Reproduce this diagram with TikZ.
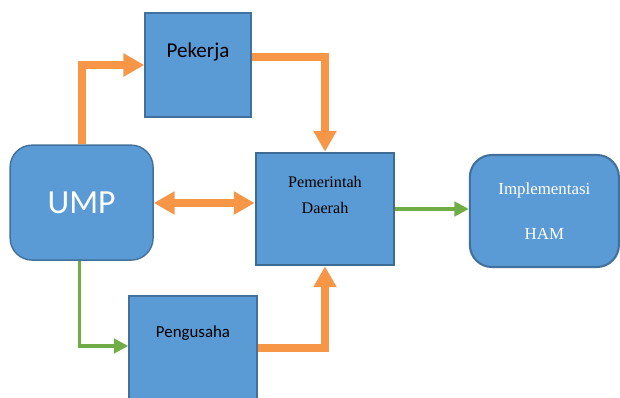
\documentclass[tikz,border=0pt]{standalone}
\usepackage{fontspec}
\setmainfont{Liberation Serif}
\newfontfamily\calibri{Carlito}
\usetikzlibrary{arrows.meta,positioning}

\definecolor{boxblue}{HTML}{5B9BD5}
\definecolor{boxline}{HTML}{41719C}
\definecolor{flow}{HTML}{F79646}
\definecolor{lime}{HTML}{70AD47}

\begin{document}
\begin{tikzpicture}[
    box/.style={draw=boxline, fill=boxblue, line width=1pt},
    orangearrow/.style={flow, line width=0.2cm, line join=miter,
        -{Triangle[width=0.55cm, length=0.52cm]}},
    greenarrow/.style={lime, line width=2.4pt,
        -{Triangle[width=0.36cm, length=0.36cm]}},
    label/.style={font=\calibri, text=black}
]

\useasboundingbox (0,0) rectangle (15.5,9.925);

\node[box, minimum width=2.65cm, minimum height=2.6cm] (pekerja) at (4.95,8.3) {};
\node[label, font=\calibri\fontsize{15}{18}\selectfont] (pekerjaT)
    at ([yshift=-0.98cm]pekerja.north) {Pekerja};

\node[box, rounded corners=0.55cm, minimum width=3.575cm, minimum height=2.875cm,
    text=white, font=\calibri\fontsize{24}{28}\selectfont] (ump) at (2.04,4.86) {UMP};

\node[box, draw=boxline!95!black, line width=1.9pt, minimum width=3.45cm, minimum height=2.8cm] (pemda) at (8.125,4.7) {};
\node[align=center, font=\fontsize{11.5}{18}\selectfont] (pemdaT)
    at ([yshift=-1.08cm]pemda.north) {Pemerintah\\Daerah};

\node[box, line width=1.5pt, rounded corners=0.55cm, minimum width=3.725cm, minimum height=2.8cm,
    align=center, text=white, font=\fontsize{12}{14}\selectfont] (ham) at (13.61,4.65)
    {Implementasi\\[18pt]HAM};

\node[box, minimum width=3.2cm, minimum height=2.8cm] (pengusaha) at (4.825,1.125) {};
\node[label, font=\calibri\fontsize{12}{14}\selectfont] (pengusahaT)
    at ([yshift=-0.95cm]pengusaha.north) {Pengusaha};

\draw[orangearrow] (ump.north) |- (pekerja.west);
\draw[orangearrow] ([yshift=0.2cm]pekerja.east) -| (pemda.north);
\draw[orangearrow, {Triangle[width=0.55cm, length=0.52cm]}-{Triangle[width=0.55cm, length=0.52cm]}]
    ([yshift=-0.01cm]ump.east) -- ([yshift=-0.01cm]ump.east -| pemda.west);
\draw[orangearrow] ([yshift=0.1cm]pengusaha.east) -| (pemda.south);

\draw[greenarrow] ([xshift=-0.05cm]ump.south) |- ([yshift=0.15cm]pengusaha.west);
\draw[greenarrow] (pemda.east) -- (pemda.east -| ham.west);

\end{tikzpicture}
\end{document}
